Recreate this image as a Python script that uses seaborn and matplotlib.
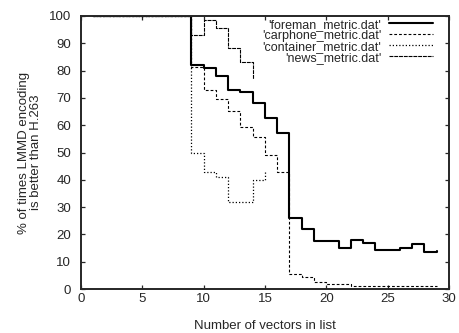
import matplotlib
matplotlib.use("Agg")
import matplotlib.pyplot as plt
import seaborn as sns
import pandas as pd

sns.set_style("ticks")
plt.rcParams['font.family'] = ['Liberation Sans', 'DejaVu Sans']

# Data (x = number of vectors in list)
x_foreman = list(range(1, 30))
foreman = [100] * 8 + [82, 81, 78, 73, 72, 68, 62.5, 57, 26, 22, 17.7, 17.7, 15,
                       17.8, 16.7, 14.4, 14.4, 15, 16.6, 13.4, 13.8]
x_carphone = list(range(1, 30))
carphone = [100] * 8 + [81.5, 73, 69.5, 65.3, 59.5, 55.8, 49, 43, 5.5, 4.5, 2.7,
                        2, 2, 1.1, 1.1, 1.1, 1.1, 1.1, 1.1, 1.1, 1.1]
x_container = list(range(1, 16))
container = [100] * 8 + [50, 43, 41, 31.7, 31.7, 40, 43]
x_news = list(range(1, 15))
news = [100] * 8 + [93, 98.5, 95.5, 88.4, 83, 77]

labels = ["'foreman_metric.dat'", "'carphone_metric.dat'",
          "'container_metric.dat'", "'news_metric.dat'"]
xticks = [0, 5, 10, 15, 20, 25, 30]
yticks = [0, 10, 20, 30, 40, 50, 60, 70, 80, 90, 100]

series = [(x_foreman, foreman), (x_carphone, carphone),
          (x_container, container), (x_news, news)]
styles = [dict(linestyle='-', linewidth=1.5),
          dict(linestyle=(0, (2.5, 1.8)), linewidth=0.8),
          dict(linestyle=(0, (1, 1.6)), linewidth=0.9),
          dict(linestyle=(0, (3.5, 0.8)), linewidth=0.8)]

fig = plt.figure(figsize=(4.6, 3.33), dpi=100)
ax = fig.add_axes([0.176, 0.132, 0.8, 0.82])

for (xs, ys), lab, st in zip(series, labels, styles):
    df = pd.DataFrame({"x": xs, "y": ys})
    sns.lineplot(data=df, x="x", y="y", ax=ax, color="black",
                 drawstyle="steps-post", label=lab, estimator=None, **st)

ax.set_xlim(0, 30)
ax.set_ylim(0, 100)
ax.set_xticks(xticks)
ax.set_yticks(yticks)
ax.tick_params(direction='in', top=True, right=True, length=3, labelsize=9.5,
               width=0.9)
ax.tick_params(axis='y', pad=7)
ax.tick_params(axis='x', pad=3)
for s in ax.spines.values():
    s.set_linewidth(1.4)
ax.set_xlabel("Number of vectors in list", fontsize=9.5, labelpad=11)
ax.set_ylabel("% of times LMMD encoding\nis better than H.263", fontsize=9.5,
              linespacing=0.95, labelpad=5)
leg = ax.legend(loc='upper right', bbox_to_anchor=(0.957, 0.99), frameon=False,
                markerfirst=False, fontsize=9, handlelength=3.5,
                labelspacing=-0.08, borderaxespad=0, borderpad=0,
                handletextpad=0.65)
fig.savefig("out.png", dpi=100)
